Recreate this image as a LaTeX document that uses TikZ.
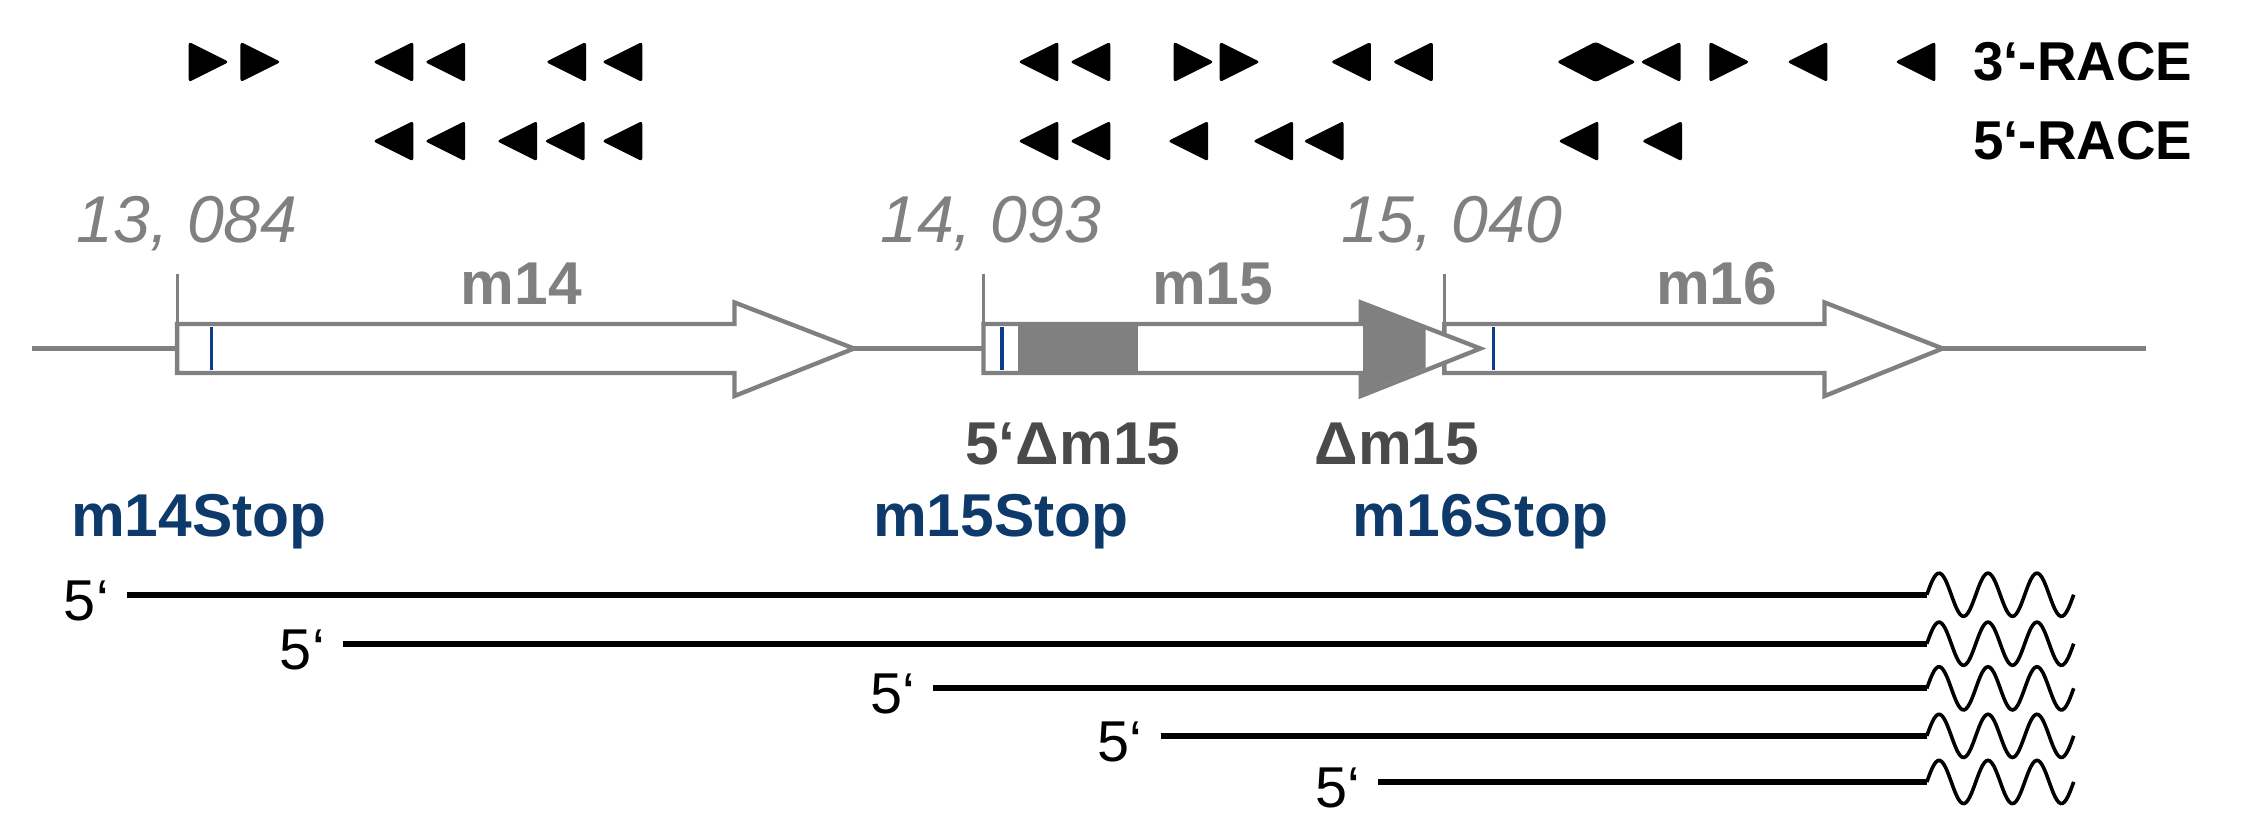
\documentclass[tikz,border=0pt]{standalone}
\usepackage{fontspec}
\setmainfont{Liberation Sans}
\definecolor{gr}{HTML}{808080}
\definecolor{dg}{HTML}{4A4A4A}
\definecolor{nv}{HTML}{0D3A6B}
\definecolor{bl}{HTML}{0B3D8C}
\newcommand\rtri[2]{\fill[rounded corners=2pt] (#1-13,#2-14)--(#1+15,#2)--(#1-13,#2+14)--cycle;}
\newcommand\ltri[2]{\fill[rounded corners=2pt] (#1+13,#2-14)--(#1-15,#2)--(#1+13,#2+14)--cycle;}
\begin{document}
\begin{tikzpicture}[x=1pt,y=-1pt,
  num/.style={font=\fontsize{46}{46}\selectfont\itshape, text=gr, inner sep=0},
  gene/.style={font=\fontsize{42}{42}\selectfont\bfseries, text=gr, inner sep=0},
  stop/.style={font=\fontsize{42}{42}\selectfont\bfseries, text=nv, inner sep=0},
  dl/.style={font=\fontsize{42}{42}\selectfont\bfseries, text=dg, inner sep=0},
  race/.style={font=\fontsize{38}{38}\selectfont\bfseries, inner sep=0, anchor=west},
  five/.style={font=\fontsize{40}{40}\selectfont, inner sep=0},
  tr/.style={line width=4pt, black},
  genebox/.style={draw=gr, line width=3pt, line join=miter}]
\useasboundingbox (0,0) rectangle (1568,579);
% triangles row 1
\rtri{144}{43}\rtri{180}{43}\ltri{274}{43}\ltri{310}{43}\ltri{394}{43}\ltri{433}{43}
\ltri{722}{43}\ltri{758}{43}\rtri{828}{43}\rtri{860}{43}\ltri{939}{43}\ltri{982}{43}
\fill[rounded corners=2pt] (1081,43)--(1108,29)--(1136,43)--(1108,57)--cycle;
\ltri{1154}{43}\rtri{1200}{43}\ltri{1256}{43}\ltri{1331}{43}
% row 2
\ltri{274}{98}\ltri{310}{98}\ltri{360}{98}\ltri{393}{98}\ltri{433}{98}
\ltri{722}{98}\ltri{758}{98}\ltri{826}{98}\ltri{885}{98}\ltri{920}{98}
\ltri{1097}{98}\ltri{1155}{98}
\node[race] (r3) at (1370,43) {3`-RACE};
\node[race] (r5) at (1370,98) {5`-RACE};
% numbers
\node[num] (n1) at (130,155) {13, 084};
\node[num] (n2) at (688,155) {14, 093};
\node[num] (n3) at (1008,155) {15, 040};
% backbone
\draw[gr, line width=3pt] (22,242)--(1490,242);
\draw[gr, line width=2pt] (123,190)--(123,226) (683,190)--(683,226) (1003,190)--(1003,226);
% m14
\draw[genebox, fill=white] (123,225)--(510,225)--(510,210)--(593,242)--(510,275)--(510,259)--(123,259)--cycle;
\draw[bl, line width=2.5pt] (147,227)--(147,257);
% m16
\draw[genebox, fill=white] (1003,225)--(1267,225)--(1267,210)--(1349,242)--(1267,275)--(1267,259)--(1003,259)--cycle;
\draw[bl, line width=2.5pt] (1037,227)--(1037,257);
% m15
\draw[genebox, fill=white] (683,225)--(945,225)--(945,210)--(1028,242)--(945,275)--(945,259)--(683,259)--cycle;
\fill[gr] (707,226.5) rectangle (790,257.5);
\fill[gr] (946.5,212)--(990,228.8)--(990,255.5)--(946.5,273)--cycle;
\draw[bl, line width=2.5pt] (696,227)--(696,257);
% gene labels
\node[gene] (m14) at (362,197) {m14};
\node[gene] (m15) at (842,197) {m15};
\node[gene] (m16) at (1192,197) {m16};
\node[dl] (d1) at (745,308) {5`Δm15};
\node[dl] (d2) at (970,308) {Δm15};
\node[stop] (s1) at (138,362) {m14Stop};
\node[stop] (s2) at (695,362) {m15Stop};
\node[stop] (s3) at (1028,362) {m16Stop};
% transcripts
\foreach \xs/\yy/\i in {88/413/1,238/447/2,648/478/3,806/511/4,957/543/5}{
  \node[five] (f\i) at (\xs-28,\yy+4) {5`};
  \draw[tr] (\xs,\yy)--(1338,\yy);
  \draw[black, line width=2.5pt] plot[domain=0:102,samples=80,smooth] ({1338+\x},{\yy-15*sin(\x*3.53*3)});
}
\end{tikzpicture}
\end{document}
